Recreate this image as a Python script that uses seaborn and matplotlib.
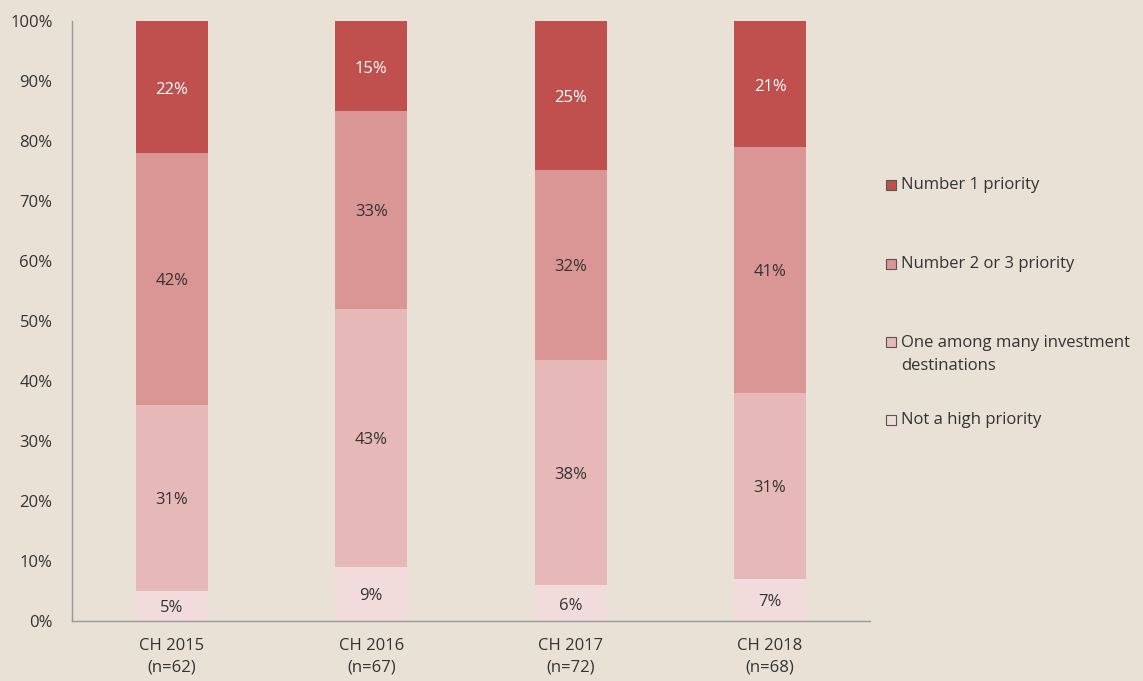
import numpy as np
import pandas as pd
import matplotlib
matplotlib.use("Agg")
import matplotlib.pyplot as plt
import seaborn as sns
from matplotlib.patches import Rectangle

categories = ["CH 2015\n(n=62)", "CH 2016\n(n=67)", "CH 2017\n(n=72)", "CH 2018\n(n=68)"]
series_names = ["Not a high priority", "One among many investment\ndestinations",
                "Number 2 or 3 priority", "Number 1 priority"]
not_high = [5, 9, 6, 7]
one_among = [31, 43, 38, 31]
num_2_3 = [42, 33, 32, 41]
num_1 = [22, 15, 25, 21]
colors = ["#F2DCDB", "#E6B9B8", "#D99694", "#C0504D"]
label_colors = ["#333333", "#333333", "#333333", "#FFFFFF"]
bg = "#E9E1D5"

sns.set_theme(style="white")
plt.rcParams['font.family'] = ['Open Sans', 'DejaVu Sans']

series = [not_high, one_among, num_2_3, num_1]
vals = np.array(series, dtype=float)
totals = vals.sum(axis=0)
pct = vals / totals * 100
cum = np.cumsum(pct, axis=0)

fig = plt.figure(figsize=(11.43, 6.81), dpi=100, facecolor=bg)
ax = fig.add_axes([0.063, 0.088, 0.698, 0.881])
ax.set_facecolor(bg)

# draw from top cumulative down so smaller ones overlay
for i in range(3, -1, -1):
    df = pd.DataFrame({"cat": categories, "val": cum[i]})
    sns.barplot(data=df, x="cat", y="val", color=colors[i], width=0.36,
                saturation=1, ax=ax, linewidth=0, errorbar=None)

for i in range(4):
    for j in range(len(categories)):
        lo = cum[i - 1][j] if i > 0 else 0
        mid = (lo + cum[i][j]) / 2
        ax.text(j, mid - 0.4, f"{int(series[i][j])}%", ha="center", va="center",
                fontsize=12, color=label_colors[i])

ax.set_ylim(0, 100)
ax.set_xlim(-0.5, 3.5)
ax.set_yticks(np.arange(0, 101, 10))
ax.set_yticklabels([f"{v}%" for v in range(0, 101, 10)], fontsize=12, color="#333333")
ax.tick_params(axis="x", labelsize=12, colors="#333333", pad=12, length=0)
ax.tick_params(axis="y", length=0, pad=14)
for t in ax.get_xticklabels():
    t.set_linespacing(1.45)
ax.set_xlabel("")
ax.set_ylabel("")
for s in ["top", "right"]:
    ax.spines[s].set_visible(False)
for s in ["left", "bottom"]:
    ax.spines[s].set_color("#999999")
    ax.spines[s].set_linewidth(1)

# legend (manual, top to bottom)
leg_y = [185, 264, 342, 420]
order = [3, 2, 1, 0]
W, H = 1143, 681
for yy, idx in zip(leg_y, order):
    fig.patches.append(Rectangle((886 / W, 1 - (yy + 5) / H), 10 / W, 10 / H,
                                 transform=fig.transFigure, facecolor=colors[idx],
                                 edgecolor="#555555", linewidth=0.8))
    multi = "\n" in series_names[idx]
    fig.text(901 / W, 1 - (yy - 7) / H if multi else 1 - yy / H, series_names[idx],
             fontsize=12, color="#333333",
             ha="left", va="top" if multi else "center",
             linespacing=1.6, transform=fig.transFigure)

fig.savefig("out.png", dpi=100, facecolor=bg)
